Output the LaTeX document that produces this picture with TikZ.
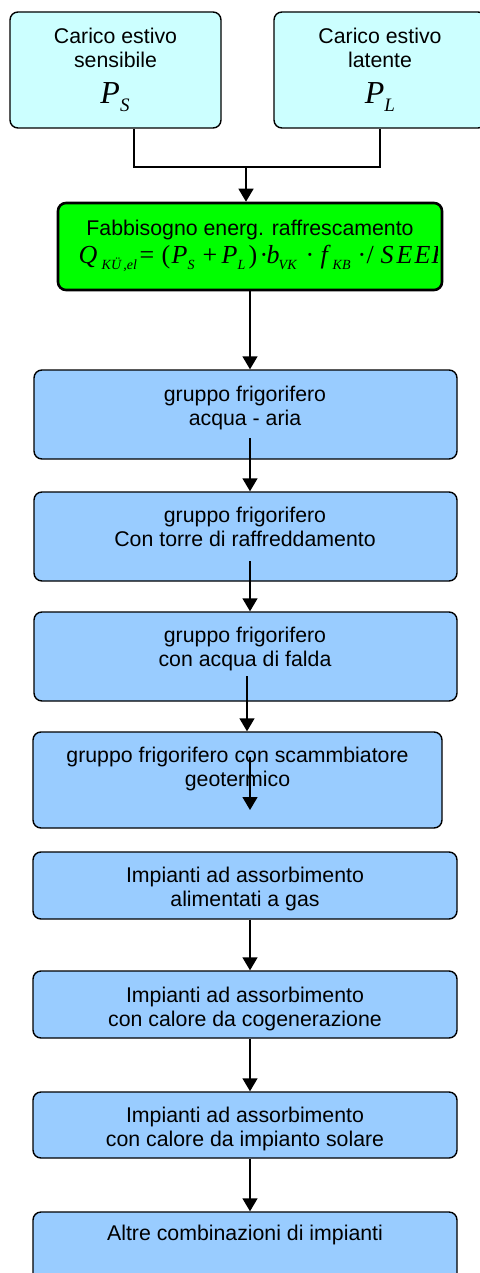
\documentclass[tikz,border=0pt]{standalone}
\usepackage{fontspec}
\setmainfont{Liberation Sans}
\newfontfamily\tms{Liberation Serif}
\usetikzlibrary{arrows.meta}
\definecolor{boxblue}{HTML}{99CCFF}
\definecolor{loadcyan}{HTML}{CCFFFF}
\definecolor{needgreen}{HTML}{00FF00}
\newcommand{\arialtxt}{\fontsize{21.3}{24}\selectfont}
\newcommand{\fmr}[1]{{\tms\fontsize{26}{26}\selectfont #1}}
\newcommand{\fmi}[1]{{\tms\itshape\fontsize{26}{26}\selectfont #1}}
\newcommand{\fms}[1]{\raisebox{-6pt}{\tms\itshape\fontsize{14}{14}\selectfont #1}}
\newcommand{\putat}[2]{\makebox[0pt][l]{\hspace*{#1}#2}}
\newcommand{\bigP}[1]{{\tms\itshape\fontsize{32}{32}\selectfont P}\raisebox{-8pt}{\tms\itshape\fontsize{19}{19}\selectfont #1}}
\begin{document}
\begin{tikzpicture}[x=1pt,y=-1pt,
  box/.style={draw=black, line width=1.4pt, rounded corners=8pt, fill=boxblue, inner sep=0pt},
  txt/.style={anchor=north, inner sep=0pt, align=center, font=\arialtxt},
  conn/.style={line width=1.4pt},
  arr/.style={line width=1.4pt, -{Triangle[width=15pt,length=13pt]}}]
\useasboundingbox (0,0) rectangle (479,1273);
\fill[white] (0,0) rectangle (479,1273);
% top boxes
\node[box, fill=loadcyan, minimum width=211pt, minimum height=116pt] (ls) at (115.5,70) {};
\node[box, fill=loadcyan, minimum width=212pt, minimum height=116pt] (rs) at (380,70) {};
\node[txt] (lst) at (115.5,26.2) {\strut Carico estivo\\sensibile};
\node[txt] (rst) at (380,26.2) {\strut Carico estivo\\latente};
\node[anchor=base, inner sep=0pt] (ps) at (115,104) {\bigP{S}};
\node[anchor=base, inner sep=0pt] (pl) at (380,104) {\bigP{L}};
% green box
\node[box, fill=needgreen, line width=2.6pt, minimum width=384pt, minimum height=87pt] (need) at (250,246.5) {};
\node[txt] (needt) at (250,218.2) {\strut Fabbisogno energ. raffrescamento};
\begin{scope}
\clip (58,205) rectangle (437,288);
\node[anchor=base west, inner sep=0pt] (form) at (78,263) {%
\putat{0pt}{\fmi{Q}}%
\putat{23pt}{\fms{KÜ\,,el}}%
\putat{61pt}{\fmr{=}}%
\putat{83pt}{\fmr{(}}%
\putat{93pt}{\fmi{P}}%
\putat{109pt}{\fms{S}}%
\putat{124pt}{\fmr{+}}%
\putat{143pt}{\fmi{P}}%
\putat{159pt}{\fms{L}}%
\putat{170pt}{\fmr{)}}%
\putat{181pt}{\fmr{·}}%
\putat{188pt}{\fmi{b}}%
\putat{200pt}{\fms{VK}}%
\putat{227pt}{\fmr{·}}%
\putat{242pt}{\fmi{f}}%
\putat{254pt}{\fms{KB}}%
\putat{279pt}{\fmr{·}}%
\putat{288pt}{\fmr{/}}%
\putat{302pt}{\fmi{S}}%
\putat{318pt}{\fmi{E}}%
\putat{336pt}{\fmi{E}}%
\putat{353pt}{\fmi{R}}%
};
\end{scope}
% blue boxes
\node[box, minimum width=423pt, minimum height=89pt] (b1) at (245.5,414.5) {};
\node[box, minimum width=423pt, minimum height=89pt] (b2) at (245.5,536.5) {};
\node[box, minimum width=423pt, minimum height=89pt] (b3) at (245.5,656.5) {};
\node[box, minimum width=409pt, minimum height=96pt] (b4) at (237.5,780) {};
\node[box, minimum width=424pt, minimum height=67pt] (b5) at (245,885.5) {};
\node[box, minimum width=424pt, minimum height=67pt] (b6) at (245,1004.5) {};
\node[box, minimum width=424pt, minimum height=66pt] (b7) at (245,1125) {};
\node[box, minimum width=424pt, minimum height=78pt] (b8) at (245,1251) {};
\node[txt] (b1t) at (245,384.2) {\strut gruppo frigorifero\\acqua - aria};
\node[txt] (b2t) at (245,505.2) {\strut gruppo frigorifero\\Con torre di raffreddamento};
\node[txt] (b3t) at (245,625.2) {\strut gruppo frigorifero\\con acqua di falda};
\node[txt] (b4t) at (237.5,745.2) {\strut gruppo frigorifero con scammbiatore\\geotermico};
\node[txt] (b5t) at (245,865.2) {\strut Impianti ad assorbimento\\alimentati a gas};
\node[txt] (b6t) at (245,985.2) {\strut Impianti ad assorbimento\\con calore da cogenerazione};
\node[txt] (b7t) at (245,1105.2) {\strut Impianti ad assorbimento\\con calore da impianto solare};
\node[txt] (b8t) at (245,1223.2) {\strut Altre combinazioni di impianti};
% connectors
\coordinate (j) at (246,167);
\draw[conn] (ls.south -| 134,0) |- (j) -| (rs.south);
\draw[arr] (j) -- (need.north -| j);
\draw[arr] (need.south -| 250,0) -- (b1.north -| 250,0);
\coordinate (s1) at (250,438);
\draw[arr] (s1) -- (b2.north -| s1);
\coordinate (s2) at (250,561);
\draw[arr] (s2) -- (b3.north -| s2);
\coordinate (s3) at (247,676);
\draw[arr] (s3) -- (b4.north -| s3);
\coordinate (s4a) at (250,757);
\coordinate (s4b) at (250,810);
\draw[arr] (s4a) -- (s4b);
\draw[arr] (b5.south -| 250,0) -- (b6.north -| 250,0);
\draw[arr] (b6.south -| 250,0) -- (b7.north -| 250,0);
\draw[arr] (b7.south -| 250,0) -- (b8.north -| 250,0);
\end{tikzpicture}
\end{document}
